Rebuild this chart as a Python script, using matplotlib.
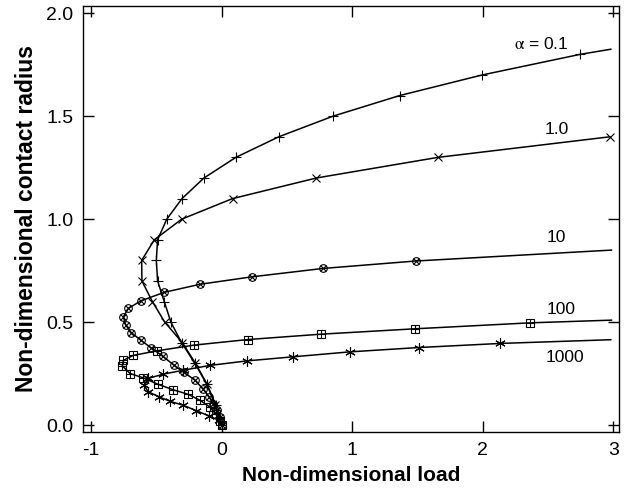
import matplotlib
matplotlib.use("Agg")
import matplotlib.pyplot as plt

plt.rcParams['font.family'] = ['Liberation Sans', 'DejaVu Sans']
plt.rcParams['mathtext.fontset'] = 'stix'

# alpha = 0.1  (+ markers)
load_01 = [0.0, -0.045, -0.115, -0.204, -0.306, -0.388, -0.439, -0.49, -0.50, -0.49,
           -0.42, -0.303, -0.135, 0.109, 0.438, 0.853, 1.363, 1.995, 2.745, 2.98]
rad_01 = [0.0, 0.1, 0.2, 0.3, 0.4, 0.5, 0.6, 0.7, 0.8, 0.9,
          1.0, 1.1, 1.2, 1.3, 1.4, 1.5, 1.6, 1.7, 1.8, 1.825]

# alpha = 1.0  (x markers)
load_1 = [0.0, -0.05, -0.112, -0.20, -0.30, -0.435, -0.53, -0.61, -0.612, -0.515,
          -0.306, 0.084, 0.726, 1.656, 2.974]
rad_1 = [0.0, 0.1, 0.2, 0.3, 0.4, 0.5, 0.6, 0.7, 0.8, 0.9,
         1.0, 1.1, 1.2, 1.3, 1.4]

# alpha = 10  (circle-x markers)
load_10 = [0.0, -0.013, -0.038, -0.064, -0.095, -0.145, -0.204, -0.288, -0.362, -0.451,
           -0.543, -0.619, -0.693, -0.734, -0.752, -0.714, -0.617, -0.439, -0.166, 0.229,
           0.777, 1.486, 2.985]
rad_10 = [0.0, 0.04, 0.073, 0.103, 0.138, 0.178, 0.219, 0.256, 0.29, 0.335,
          0.377, 0.413, 0.45, 0.486, 0.526, 0.567, 0.604, 0.645, 0.684, 0.72,
          0.761, 0.797, 0.85]

# alpha = 100  (square-plus markers)
load_100 = [0.0, -0.01, -0.045, -0.092, -0.163, -0.256, -0.371, -0.488, -0.600, -0.701,
            -0.760, -0.752, -0.676, -0.495, -0.209, 0.204, 0.764, 1.48, 2.365, 2.985]
rad_100 = [0.0, 0.02, 0.055, 0.089, 0.12, 0.15, 0.172, 0.199, 0.23, 0.251,
           0.288, 0.315, 0.339, 0.361, 0.389, 0.416, 0.442, 0.468, 0.497, 0.51]

# alpha = 1000  (asterisk markers)
load_1000 = [0.0, -0.021, -0.097, -0.195, -0.295, -0.394, -0.479, -0.561, -0.594, -0.563,
             -0.446, -0.293, -0.092, 0.191, 0.547, 0.981, 1.508, 2.135, 2.98]
rad_1000 = [0.0, 0.024, 0.045, 0.071, 0.097, 0.116, 0.138, 0.162, 0.194, 0.227,
            0.248, 0.267, 0.29, 0.312, 0.332, 0.356, 0.377, 0.397, 0.415]

curve_labels = [r"$\mathrm{\alpha}$ = 0.1", "1.0", "10", "100", "1000"]
label_x = [2.449, 2.565, 2.565, 2.598, 2.628]
label_y = [1.851, 1.433, 0.913, 0.561, 0.330]

xticks = [-1, 0, 1, 2, 3]
yticks = [0.0, 0.5, 1.0, 1.5, 2.0]

fig = plt.figure(figsize=(6.30, 4.96), dpi=100)
ax = fig.add_axes([0.132, 0.129, 0.851, 0.859])

lw = 1.1
mlw = 0.8

def draw(x, y, markers, mevery):
    ax.plot(x, y, color='black', lw=lw, zorder=2)
    for m, s in markers:
        ax.plot(x, y, linestyle='none', marker=m, markersize=s, markeredgecolor='black',
                markerfacecolor='none', markeredgewidth=mlw, markevery=mevery, zorder=3)

draw(load_01, rad_01, [('+', 7.5)], list(range(1, len(load_01) - 1)))
draw(load_1, rad_1, [('x', 6)], list(range(1, len(load_1))))
draw(load_10, rad_10, [('o', 5.5), ('x', 4)], list(range(0, len(load_10) - 1)))
draw(load_100, rad_100, [('s', 5.5), ('+', 5.5)], list(range(0, len(load_100) - 1)))
draw(load_1000, rad_1000, [((6, 2, 0), 7.5)], list(range(1, len(load_1000) - 1)))

for t, x, y in zip(curve_labels, label_x, label_y):
    ax.text(x, y, t, fontsize=12.5, ha='center', va='center')

ax.set_xlim(-1.06, 3.045)
ax.set_ylim(-0.033, 2.035)
ax.set_xticks(xticks)
ax.set_yticks(yticks)
ax.set_xticklabels([str(v) for v in xticks])
ax.set_yticklabels([f"{v:.1f}" for v in yticks])
ax.tick_params(direction='in', length=8, width=1.0, top=True, right=True,
               labelsize=14, pad=7)
for s in ax.spines.values():
    s.set_linewidth(1.0)

ax.set_xlabel("Non-dimensional load", fontsize=15, fontweight='bold', labelpad=5)
ax.set_ylabel("Non-dimensional contact radius", fontsize=16.5, fontweight='bold', labelpad=6)

fig.savefig("out.png", dpi=100)
